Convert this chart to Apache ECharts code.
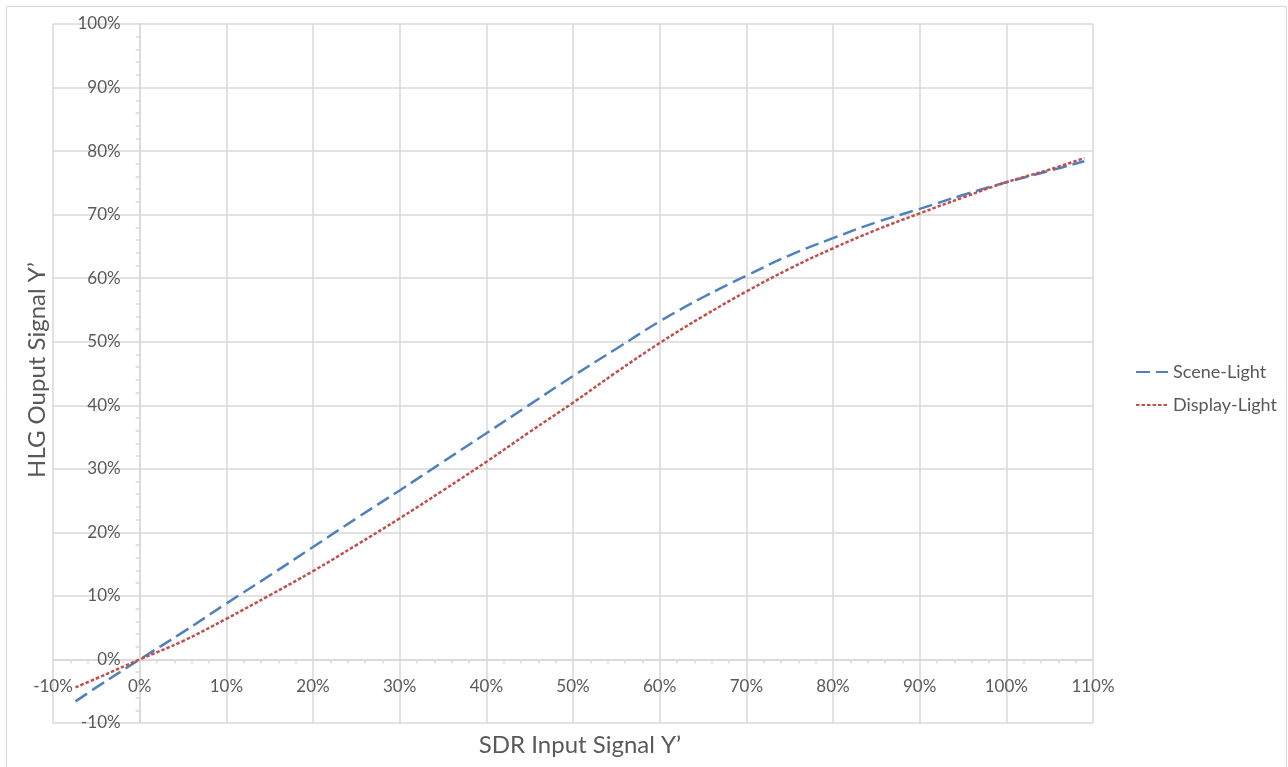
<!DOCTYPE html>
<html>
<head>
<meta charset="utf-8">
<script src="https://cdn.jsdelivr.net/npm/echarts@6/dist/echarts.min.js"></script>
<style>
html,body{margin:0;padding:0;background:#fff;}
#chart{width:1288px;height:767px;}
</style>
</head>
<body>
<div id="chart"></div>
<script>
// SDR input signal Y' (%)
const sdrInput = [-7.4, -5, 0, 5, 10, 15, 20, 25, 30, 35, 40, 45, 50, 55, 60, 65, 70, 75, 80, 85, 90, 95, 100, 105, 109];
// HLG output, scene-light conversion (%)
const sceneLight = [-6.6, -4.4, 0, 4.3, 8.8, 13.2, 17.7, 22.2, 26.6, 31.1, 35.6, 40.1, 44.6, 48.9, 53.2, 57.0, 60.4, 63.6, 66.3, 68.8, 70.9, 73.1, 75.1, 76.9, 78.4];
// HLG output, display-light conversion (%)
const displayLight = [-4.4, -3.0, 0, 2.9, 6.4, 10.1, 13.9, 18.0, 22.2, 26.6, 31.1, 35.8, 40.4, 45.2, 49.8, 54.0, 57.9, 61.5, 64.7, 67.6, 70.2, 72.7, 75.1, 77.1, 78.9];
const seriesNames = ['Scene-Light', 'Display-Light'];
const xTitle = 'SDR Input Signal Y\u2019';
const yTitle = 'HLG Ouput Signal Y\u2019';

const FONT = 'Lato';
const GRID = '#D9D9D9';
const TXT = '#595959';
const G = {left: 53, right: 195, top: 24, bottom: 44};

const chart = echarts.init(document.getElementById('chart'), null, {renderer: 'canvas'});

function axisCommon(margin) {
  return {
    type: 'value',
    axisLine: {show: true, onZero: false, lineStyle: {color: GRID, width: 1.5}},
    axisTick: {show: false},
    minorTick: {show: true, splitNumber: 5, length: 4, lineStyle: {color: GRID, width: 1.5}},
    axisLabel: {formatter: '{value}%', color: TXT, fontSize: 17, fontFamily: FONT, margin: margin, showMinLabel: true, showMaxLabel: true},
    splitLine: {show: true, lineStyle: {color: GRID, width: 1.5}}
  };
}

const xAxisOpt = Object.assign(axisCommon(19), {min: -10, max: 110, interval: 10, offset: 0});
const yAxisOpt = Object.assign(axisCommon(19), {min: -10, max: 100, interval: 10, offset: 0});

chart.setOption({
  animation: false,
  backgroundColor: '#fff',
  grid: Object.assign({containLabel: false, outerBoundsMode: 'none'}, G),
  legend: {
    orient: 'vertical',
    left: 1130,
    top: 358,
    itemWidth: 32,
    itemHeight: 14,
    itemGap: 15,
    itemStyle: {opacity: 0},
    textStyle: {color: TXT, fontSize: 18, fontFamily: FONT},
    data: seriesNames
  },
  xAxis: xAxisOpt,
  yAxis: yAxisOpt,
  graphic: [
    {type: 'rect', silent: true, z: -10, shape: {x: 6.5, y: 6.5, width: 1280, height: 780}, style: {fill: 'none', stroke: GRID, lineWidth: 1}},
    {type: 'text', silent: true, x: 580, y: 745, style: {text: xTitle, fill: TXT, font: '24px ' + FONT, textAlign: 'center', textVerticalAlign: 'middle'}},
    {type: 'text', silent: true, rotation: Math.PI / 2, x: 37, y: 370, style: {text: yTitle, fill: TXT, font: '24px ' + FONT, textAlign: 'center', textVerticalAlign: 'middle'}}
  ],
  series: [
    {
      name: seriesNames[0], type: 'line', symbol: 'none', smooth: 0.4,
      data: sdrInput.map((x, i) => [x, sceneLight[i]]),
      lineStyle: {color: '#4F81BD', width: 2.5, type: [14, 6]},
      itemStyle: {color: '#4F81BD'}
    },
    {
      name: seriesNames[1], type: 'line', symbol: 'none', smooth: 0.4,
      data: sdrInput.map((x, i) => [x, displayLight[i]]),
      lineStyle: {color: '#C0504D', width: 2.5, type: [3.5, 2]},
      itemStyle: {color: '#C0504D'}
    }
  ]
});

// Axes cross at zero: move each axis to the other axis' zero via the library's scales
const px0 = chart.convertToPixel({xAxisIndex: 0}, 0);
const py0 = chart.convertToPixel({yAxisIndex: 0}, 0);
const gridBottomY = 767 - G.bottom;
chart.setOption({
  xAxis: {offset: py0 - gridBottomY},
  yAxis: {offset: G.left - px0}
});
</script>
</body>
</html>
